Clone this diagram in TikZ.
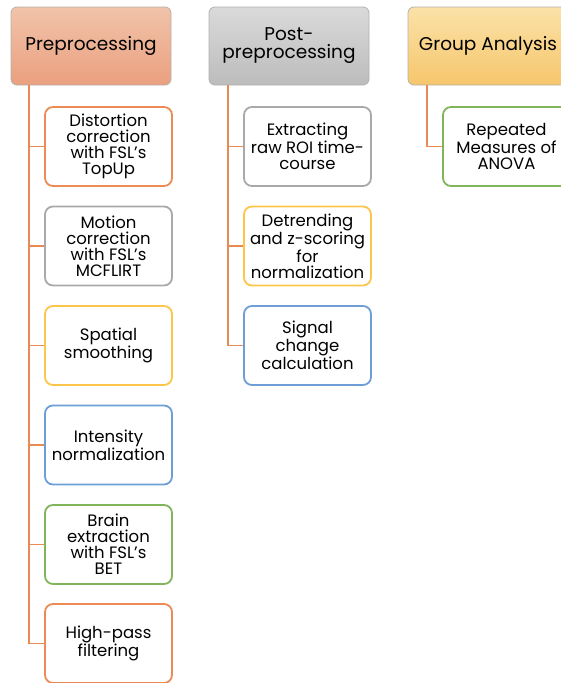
\documentclass[tikz,border=0pt]{standalone}
\usepackage{fontspec}
\setmainfont{Poppins}
\definecolor{linkorange}{HTML}{E98A52}
\definecolor{taskorange}{HTML}{EC8B55}
\definecolor{taskgray}{HTML}{A9A9A9}
\definecolor{taskyellow}{HTML}{FBC64A}
\definecolor{taskblue}{HTML}{6D9ED6}
\definecolor{taskgreen}{HTML}{80B55B}
\definecolor{hdrline}{HTML}{B5B0AB}
\definecolor{pretop}{HTML}{F1C3AA}
\definecolor{prebot}{HTML}{EAA07F}
\definecolor{posttop}{HTML}{DADADA}
\definecolor{postbot}{HTML}{BCBCBC}
\definecolor{grptop}{HTML}{FBE2A8}
\definecolor{grpbot}{HTML}{F6C66C}
\tikzset{
  header/.style={draw=hdrline, line width=0.8pt, rounded corners=6pt,
    minimum width=160pt, minimum height=78pt, align=center,
    font=\fontsize{18.5}{18}\selectfont},
  task/.style={draw=#1, fill=white, line width=1.8pt, rounded corners=8pt,
    minimum width=127pt, minimum height=79pt, align=center,
    font=\fontsize{16.5}{16}\selectfont},
  link/.style={draw=linkorange, line width=1.8pt}
}
\begin{document}
\begin{tikzpicture}[x=1pt,y=-1pt]
  \useasboundingbox (0,0) rectangle (560,683);
  % column headers
  \node[header, top color=pretop, bottom color=prebot] (pre) at (91,46) {Preprocessing};
  \node[header, top color=posttop, bottom color=postbot] (post) at (289,46) {Post-\\preprocessing};
  \node[header, top color=grptop, bottom color=grpbot] (grp) at (488,46) {Group Analysis};
  % preprocessing steps
  \node[task=taskorange] (dist) at (108.5,146.5) {Distortion\\correction\\with FSL's\\TopUp};
  \node[task=taskgray] (motion) at (108.5,246) {Motion\\correction\\with FSL's\\MCFLIRT};
  \node[task=taskyellow] (smooth) at (108.5,345.5) {Spatial\\smoothing};
  \node[task=taskblue] (inorm) at (108.5,445) {Intensity\\normalization};
  \node[task=taskgreen] (bet) at (108.5,544.5) {Brain\\extraction\\with FSL's\\BET};
  \node[task=taskorange] (hpf) at (108.5,643.5) {High-pass\\filtering};
  % post-preprocessing steps
  \node[task=taskgray] (roi) at (307.5,146.5) {Extracting\\raw ROI time-\\course};
  \node[task=taskyellow] (detrend) at (307.5,246) {Detrending\\and z-scoring\\for\\normalization};
  \node[task=taskblue] (signal) at (307.5,345.5) {Signal\\change\\calculation};
  % group analysis
  \node[task=taskgreen] (anova) at (506.5,146.5) {Repeated\\Measures of\\ANOVA};
  % trunk points
  \coordinate (preT) at (29,85);
  \coordinate (postT) at (228,85);
  \coordinate (grpT) at (427,85);
  \begin{scope}[link]
    \draw (preT) |- (dist.west);
    \draw (preT) |- (motion.west);
    \draw (preT) |- (smooth.west);
    \draw (preT) |- (inorm.west);
    \draw (preT) |- (bet.west);
    \draw (preT) |- (hpf.west);
    \draw (postT) |- (roi.west);
    \draw (postT) |- (detrend.west);
    \draw (postT) |- (signal.west);
    \draw (grpT) |- (anova.west);
  \end{scope}
\end{tikzpicture}
\end{document}
